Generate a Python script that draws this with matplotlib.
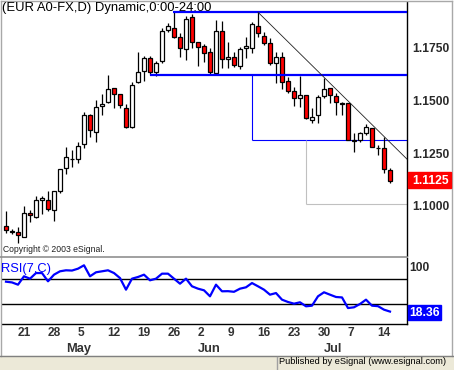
import matplotlib
matplotlib.use('Agg')
import matplotlib.pyplot as plt
import matplotlib.transforms as mtransforms
from matplotlib.patches import Rectangle
from matplotlib.lines import Line2D
import numpy as np
import pandas as pd

plt.rcParams['font.family'] = ['Liberation Sans', 'DejaVu Sans']

# daily EUR/USD bars, 17 Apr - 16 Jul 2003
opens = [1.0909, 1.0884, 1.0881, 1.0860, 1.0971, 1.0955, 1.1034, 1.1035, 1.0985, 1.1077,
         1.1185, 1.1227, 1.1231, 1.1299, 1.1436, 1.1356, 1.1479, 1.1498, 1.1565, 1.1536,
         1.1470, 1.1382, 1.1596, 1.1647, 1.1710, 1.1641, 1.1694, 1.1842, 1.1852, 1.1807,
         1.1750, 1.1902, 1.1783, 1.1764, 1.1738, 1.1636, 1.1837, 1.1702, 1.1712, 1.1671,
         1.1755, 1.1755, 1.1862, 1.1814, 1.1778, 1.1683, 1.1715, 1.1601, 1.1552, 1.1517,
         1.1533, 1.1414, 1.1438, 1.1528, 1.1565, 1.1528, 1.1494, 1.1493, 1.1317, 1.1319,
         1.1352, 1.1375, 1.1281, 1.1280, 1.1177]
highs = [1.0982, 1.0896, 1.0907, 1.1004, 1.0987, 1.1052, 1.1053, 1.1077, 1.1077, 1.1183,
         1.1284, 1.1273, 1.1308, 1.1452, 1.1444, 1.1509, 1.1538, 1.1628, 1.1567, 1.1538,
         1.1490, 1.1595, 1.1736, 1.1718, 1.1718, 1.1694, 1.1850, 1.1873, 1.1932, 1.1826,
         1.1908, 1.1918, 1.1785, 1.1774, 1.1757, 1.1889, 1.1886, 1.1786, 1.1738, 1.1761,
         1.1808, 1.1881, 1.1926, 1.1833, 1.1802, 1.1738, 1.1738, 1.1620, 1.1572, 1.1623,
         1.1535, 1.1470, 1.1533, 1.1612, 1.1567, 1.1541, 1.1498, 1.1495, 1.1351, 1.1358,
         1.1394, 1.1377, 1.1295, 1.1335, 1.1185]
lows = [1.0876, 1.0873, 1.0828, 1.0857, 1.0928, 1.0950, 1.0967, 1.0982, 1.0936, 1.1066,
        1.1158, 1.1191, 1.1211, 1.1282, 1.1335, 1.1311, 1.1439, 1.1495, 1.1470, 1.1472,
        1.1377, 1.1377, 1.1591, 1.1600, 1.1628, 1.1623, 1.1683, 1.1833, 1.1805, 1.1712,
        1.1699, 1.1755, 1.1671, 1.1691, 1.1631, 1.1633, 1.1660, 1.1660, 1.1667, 1.1656,
        1.1707, 1.1731, 1.1810, 1.1770, 1.1675, 1.1588, 1.1561, 1.1541, 1.1482, 1.1477,
        1.1420, 1.1398, 1.1401, 1.1517, 1.1496, 1.1438, 1.1438, 1.1317, 1.1263, 1.1311,
        1.1343, 1.1284, 1.1248, 1.1164, 1.1116]
closes = [1.0892, 1.0885, 1.0866, 1.0971, 1.0961, 1.1033, 1.1044, 1.0993, 1.1075, 1.1180,
          1.1237, 1.1231, 1.1291, 1.1436, 1.1365, 1.1474, 1.1489, 1.1560, 1.1538, 1.1485,
          1.1379, 1.1579, 1.1641, 1.1707, 1.1643, 1.1686, 1.1837, 1.1861, 1.1810, 1.1755,
          1.1894, 1.1786, 1.1762, 1.1731, 1.1643, 1.1837, 1.1704, 1.1715, 1.1674, 1.1751,
          1.1764, 1.1869, 1.1826, 1.1778, 1.1683, 1.1715, 1.1596, 1.1553, 1.1517, 1.1533,
          1.1422, 1.1430, 1.1525, 1.1560, 1.1533, 1.1501, 1.1492, 1.1319, 1.1315, 1.1351,
          1.1382, 1.1287, 1.1279, 1.1179, 1.1125]
rsi = [66.2, 65.0, 61.4, 74.8, 71.0, 80.0, 80.0, 66.8, 77.4, 82.8,
       84.4, 84.0, 87.0, 92.4, 74.8, 81.2, 82.8, 84.4, 80.0, 72.0,
       53.4, 71.0, 73.7, 77.4, 68.4, 71.0, 79.0, 79.0, 71.0, 63.0,
       71.0, 58.8, 55.0, 52.4, 42.8, 61.4, 50.8, 51.0, 50.0, 55.0,
       57.2, 64.0, 58.8, 53.4, 45.4, 48.0, 37.4, 33.7, 31.0, 33.2,
       26.8, 27.8, 42.8, 49.2, 45.4, 41.7, 41.0, 24.0, 25.2, 30.5,
       37.4, 27.8, 27.0, 21.4, 18.36]

price_ticks = [1.1750, 1.1500, 1.1250, 1.1000]
last_price = 1.1125
rsi_levels = [70, 30]

# drawn studies
resist_top = 1.1927      # from bar 28
resist_mid = 1.1628      # from bar 24
box_blue = (41, 1.1628, 1.1319)
box_gray = (50, 1.1319, 1.1014)
trend_start = (42, 1.1926)
trend_slope = -0.00281

dates = pd.bdate_range('2003-04-17', '2003-07-16')
n = len(closes)
idx = np.arange(n)

W, H = 454, 370
fig = plt.figure(figsize=(W / 100, H / 100), dpi=100)
fig.patch.set_facecolor('white')


def px_box(x0, y0, x1, y1):
    return [x0 / W, 1 - y1 / H, (x1 - x0) / W, (y1 - y0) / H]


xl = ((2 - 6) / 6, (407 - 6) / 6)

ax = fig.add_axes(px_box(2, 2, 407, 256))
ax.set_xlim(*xl)
ax.set_ylim(1.0768, 1.19745)
for s in ['top', 'left', 'bottom']:
    ax.spines[s].set_visible(False)
ax.spines['right'].set_color('black')
ax.spines['right'].set_linewidth(1)
ax.set_xticks([])
ax.set_yticks([])

o = np.array(opens); c = np.array(closes)
hi = np.array(highs); lo = np.array(lows)
up = c >= o
ax.vlines(idx, lo, hi, color='black', lw=0.9, zorder=2)
body_lo = np.minimum(o, c)
body_h = np.maximum(np.abs(c - o), 0.00015)
ax.bar(idx[up], body_h[up], bottom=body_lo[up], width=0.72, color='white',
       edgecolor='black', linewidth=0.9, zorder=3)
ax.bar(idx[~up], body_h[~up], bottom=body_lo[~up], width=0.72, color='#ff0000',
       edgecolor='black', linewidth=0.9, zorder=3)

blue = '#0000ff'
ax.hlines(resist_top, 27.8, xl[1], color=blue, lw=1.6, zorder=4)
ax.hlines(resist_mid, 24, xl[1], color=blue, lw=1.6, zorder=4)
ax.vlines(box_blue[0], box_blue[2], box_blue[1], color=blue, lw=0.8, zorder=1)
ax.hlines(box_blue[2], box_blue[0], xl[1], color=blue, lw=0.8, zorder=1)
ax.vlines(box_gray[0], box_gray[2], box_gray[1], color='#c0c0c0', lw=0.8, zorder=1)
ax.hlines(box_gray[2], box_gray[0], xl[1], color='#c0c0c0', lw=0.8, zorder=1)
tx = np.array([trend_start[0], xl[1]])
ax.plot(tx, trend_start[1] + trend_slope * (tx - trend_start[0]), color='#202020',
        lw=0.6, zorder=4)

fig.text(1.5 / W, 1 - 8 / H, '(EUR A0-FX,D) Dynamic,0:00-24:00',
         fontsize=9.4, va='center', ha='left', color='black', zorder=5)
fig.text(3 / W, 1 - 249 / H, 'Copyright \u00a9 2003 eSignal.',
         fontsize=6.2, va='center', ha='left', color='#202020')

# price scale
tr = mtransforms.blended_transform_factory(fig.transFigure, ax.transData)
for p in price_ticks:
    fig.text(412 / W, p, '%.4f' % p, transform=tr, fontsize=8.7, fontweight='bold',
             color='#2a2a2a', va='center', ha='left')
fig.patches.append(Rectangle((407.5 / W, 1 - 188 / H), 43.5 / W, 16.5 / H,
                             transform=fig.transFigure, color='#ff0000', zorder=3))
fig.text(412 / W, last_price, '%.4f' % last_price, transform=tr, fontsize=8.7,
         fontweight='bold', color='white', va='center', ha='left', zorder=4)

# RSI panel
ax2 = fig.add_axes(px_box(2, 258, 407, 324))
ax2.set_xlim(*xl)
ax2.set_ylim(-1.52, 104.08)
for s in ['top', 'left']:
    ax2.spines[s].set_visible(False)
ax2.spines['right'].set_linewidth(1)
ax2.spines['bottom'].set_linewidth(1)
ax2.set_xticks([])
ax2.set_yticks([])
for lv in rsi_levels:
    ax2.axhline(lv, color='black', lw=1)
ax2.plot(idx, rsi, color=blue, lw=1.6)
fig.text(1 / W, 1 - 269 / H, 'RSI(7,C)', fontsize=9.3, color=blue, va='center',
         ha='left', zorder=5)
fig.text(409 / W, 1 - 268 / H, '100', fontsize=8.7, fontweight='bold', color='#2a2a2a',
         va='center', ha='left')
fig.patches.append(Rectangle((407.5 / W, 1 - 320 / H), 33 / W, 15 / H,
                             transform=fig.transFigure, color=blue, zorder=3))
fig.text(409 / W, 1 - 312.5 / H, '%.2f' % rsi[-1], fontsize=8.7, fontweight='bold',
         color='white', va='center', ha='left', zorder=4)

# date axis
trx = mtransforms.blended_transform_factory(ax2.transData, fig.transFigure)
for i, d in enumerate(dates):
    if d.weekday() == 0:
        ax2.text(i - 0.05, 1 - 332.5 / H, str(d.day), transform=trx, fontsize=8.6,
                 fontweight='bold', color='#333333', ha='left', va='center', clip_on=False)
    if i > 0 and d.month != dates[i - 1].month:
        ax2.text(i - 0.05, 1 - 349 / H, d.strftime('%b'), transform=trx, fontsize=9.3,
                 fontweight='bold', color='#333333', ha='left', va='center', clip_on=False)

# frame, separator and status bar
def fline(x0, y0, x1, y1, color, lw=1):
    fig.add_artist(Line2D([x0 / W, x1 / W], [1 - y0 / H, 1 - y1 / H], color=color, lw=lw,
                          transform=fig.transFigure))

fline(0.5, 0.5, 452, 0.5, '#a8a8a8')
fline(0.5, 0.5, 0.5, 356, '#a8a8a8')
fline(452, 0.5, 452, 356, '#a8a8a8')
fline(0, 256.5, 407, 256.5, '#909090', 1.2)
fig.patches.append(Rectangle((0, 0), 1, 14 / H, transform=fig.transFigure,
                             color='#ece9d8', zorder=1))
fline(0, 356, 454, 356, '#808080')
fline(277, 357, 277, 370, '#a0a0a0')
fig.text(446 / W, 1 - 361.5 / H, 'Published by eSignal (www.esignal.com)', fontsize=6.7,
         color='black', ha='right', va='center', zorder=4)

fig.savefig('out.png', dpi=100)
